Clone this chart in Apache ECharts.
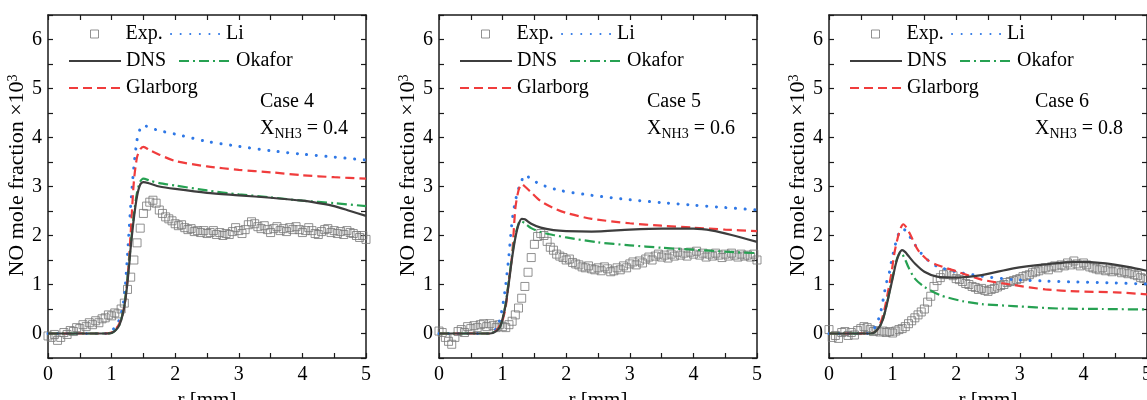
<!DOCTYPE html>
<html>
<head>
<meta charset="utf-8">
<script src="https://cdn.jsdelivr.net/npm/echarts@6/dist/echarts.min.js"></script>
<style>
  html, body { margin: 0; padding: 0; background: #fff; }
  #main { width: 1147px; height: 400px; }
</style>
</head>
<body>
<div id="main"></div>
<script>
// ---- data (r in mm, NO mole fraction x 10^3) ----
const caseNames = ['Case 4', 'Case 5', 'Case 6']
const xNH3 = ['0.4', '0.6', '0.8']

const expR = [0, 0.05, 0.1, 0.15, 0.2, 0.25, 0.3, 0.35, 0.4, 0.45, 0.5, 0.55, 0.6, 0.65, 0.7, 0.75, 0.8, 0.85, 0.9, 0.95,
  1.0, 1.05, 1.1, 1.15, 1.2, 1.25, 1.3, 1.35, 1.4, 1.45, 1.5, 1.55, 1.6, 1.65, 1.7, 1.75, 1.8, 1.85, 1.9, 1.95,
  2.0, 2.05, 2.1, 2.15, 2.2, 2.25, 2.3, 2.35, 2.4, 2.45, 2.5, 2.55, 2.6, 2.65, 2.7, 2.75, 2.8, 2.85, 2.9, 2.95,
  3.0, 3.05, 3.1, 3.15, 3.2, 3.25, 3.3, 3.35, 3.4, 3.45, 3.5, 3.55, 3.6, 3.65, 3.7, 3.75, 3.8, 3.85, 3.9, 3.95,
  4.0, 4.05, 4.1, 4.15, 4.2, 4.25, 4.3, 4.35, 4.4, 4.45, 4.5, 4.55, 4.6, 4.65, 4.7, 4.75, 4.8, 4.85, 4.9, 4.95, 5.0]

const exp4 = [-0.05, -0.08, -0.02, -0.14, -0.08, 0.02, -0.02, 0.06, 0.04, 0.12, 0.10, 0.18, 0.14, 0.22, 0.18, 0.26, 0.22, 0.30, 0.32, 0.38,
  0.36, 0.42, 0.40, 0.50, 0.62, 0.90, 1.15, 1.50, 1.85, 2.15, 2.45, 2.60, 2.68, 2.72, 2.66, 2.52, 2.45, 2.38, 2.34, 2.30,
  2.24, 2.20, 2.22, 2.16, 2.12, 2.14, 2.08, 2.10, 2.06, 2.10, 2.04, 2.06, 2.10, 2.02, 2.06, 2.00, 2.04, 2.02, 2.08, 2.16,
  2.10, 2.04, 2.12, 2.22, 2.28, 2.24, 2.18, 2.14, 2.20, 2.12, 2.06, 2.14, 2.18, 2.10, 2.14, 2.08, 2.16, 2.12, 2.18, 2.12,
  2.06, 2.10, 2.16, 2.10, 2.04, 2.02, 2.08, 2.12, 2.14, 2.06, 2.10, 2.04, 2.08, 2.02, 2.10, 2.06, 2.04, 2.00, 1.96, 2.00, 1.92]

const exp5 = [0.05, 0.02, -0.08, -0.16, -0.22, -0.08, 0.04, 0.08, 0.02, 0.14, 0.10, 0.16, 0.12, 0.18, 0.20, 0.14, 0.20, 0.16, 0.12, 0.18,
  0.14, 0.12, 0.18, 0.25, 0.38, 0.52, 0.72, 0.96, 1.25, 1.55, 1.82, 1.98, 2.04, 2.00, 1.88, 1.76, 1.70, 1.62, 1.58, 1.55,
  1.50, 1.52, 1.45, 1.42, 1.40, 1.36, 1.34, 1.38, 1.32, 1.30, 1.34, 1.28, 1.36, 1.32, 1.26, 1.28, 1.34, 1.30, 1.38, 1.34,
  1.42, 1.46, 1.40, 1.48, 1.44, 1.52, 1.56, 1.50, 1.58, 1.62, 1.56, 1.60, 1.54, 1.62, 1.58, 1.66, 1.60, 1.64, 1.58, 1.66,
  1.62, 1.68, 1.60, 1.64, 1.56, 1.62, 1.58, 1.64, 1.60, 1.55, 1.62, 1.58, 1.64, 1.60, 1.56, 1.62, 1.58, 1.60, 1.56, 1.62, 1.50]

const exp6 = [0.08, -0.08, -0.04, -0.10, 0.02, 0.04, -0.04, 0.02, -0.03, 0.06, 0.10, 0.14, 0.12, 0.08, 0.04, 0.06, 0.03, 0.05, 0.02, 0.04,
  0.01, 0.05, 0.08, 0.10, 0.14, 0.20, 0.26, 0.32, 0.38, 0.44, 0.50, 0.64, 0.76, 0.96, 1.08, 1.14, 1.20, 1.24, 1.22, 1.18,
  1.12, 1.10, 1.06, 1.02, 1.00, 0.96, 0.94, 0.90, 0.92, 0.88, 0.86, 0.90, 0.92, 0.95, 0.98, 1.00, 1.04, 1.06, 1.08, 1.10,
  1.12, 1.16, 1.18, 1.20, 1.24, 1.26, 1.28, 1.32, 1.34, 1.30, 1.36, 1.38, 1.34, 1.40, 1.38, 1.44, 1.40, 1.48, 1.42, 1.38,
  1.44, 1.40, 1.36, 1.34, 1.32, 1.30, 1.34, 1.28, 1.30, 1.26, 1.30, 1.28, 1.24, 1.26, 1.22, 1.24, 1.20, 1.18, 1.14, 1.12, 1.10]

const dns4 = [[0, 0], [0.9, 0], [1.0, 0.01], [1.1, 0.12], [1.15, 0.27], [1.2, 0.55], [1.25, 1.05], [1.3, 1.75], [1.35, 2.35], [1.4, 2.8],
  [1.45, 3.04], [1.5, 3.09], [1.6, 3.06], [1.75, 3.0], [2.0, 2.95], [2.5, 2.87], [3.0, 2.82], [3.5, 2.77], [4.0, 2.71], [4.25, 2.66],
  [4.5, 2.6], [4.75, 2.5], [5.0, 2.4]]
const oka4 = [[0, 0], [0.9, 0], [1.0, 0.01], [1.1, 0.12], [1.15, 0.28], [1.2, 0.58], [1.25, 1.1], [1.3, 1.8], [1.35, 2.42], [1.4, 2.88],
  [1.45, 3.1], [1.5, 3.16], [1.6, 3.12], [1.75, 3.07], [2.0, 3.02], [2.5, 2.92], [3.0, 2.84], [3.5, 2.78], [4.0, 2.71], [4.5, 2.66], [5.0, 2.6]]
const gla4 = [[0, 0], [0.9, 0], [1.0, 0.02], [1.1, 0.15], [1.15, 0.3], [1.2, 0.55], [1.25, 1.1], [1.3, 2.05], [1.35, 3.1], [1.4, 3.6],
  [1.45, 3.76], [1.5, 3.81], [1.6, 3.74], [1.75, 3.65], [2.0, 3.52], [2.5, 3.41], [3.0, 3.34], [3.5, 3.29], [4.0, 3.23], [4.5, 3.19], [5.0, 3.16]]
const li4 = [[0, 0], [0.9, 0], [1.0, 0.05], [1.1, 0.22], [1.15, 0.4], [1.2, 0.75], [1.25, 1.6], [1.3, 2.6], [1.35, 3.4], [1.4, 3.95],
  [1.45, 4.18], [1.5, 4.25], [1.6, 4.2], [1.75, 4.14], [2.0, 4.07], [2.5, 3.92], [3.0, 3.82], [3.5, 3.73], [4.0, 3.66], [4.5, 3.6], [5.0, 3.54]]

const dns5 = [[0, 0], [0.8, 0], [0.9, 0.05], [0.96, 0.14], [1.0, 0.3], [1.05, 0.6], [1.1, 1.05], [1.15, 1.55], [1.2, 1.95], [1.25, 2.22],
  [1.3, 2.34], [1.35, 2.33], [1.45, 2.24], [1.6, 2.16], [1.8, 2.11], [2.0, 2.09], [2.4, 2.08], [3.0, 2.12], [3.5, 2.14], [4.0, 2.14],
  [4.3, 2.1], [4.6, 2.01], [5.0, 1.87]]
const oka5 = [[0, 0], [0.8, 0], [0.9, 0.05], [0.96, 0.14], [1.0, 0.3], [1.05, 0.62], [1.1, 1.1], [1.15, 1.6], [1.2, 2.0], [1.25, 2.24],
  [1.28, 2.3], [1.35, 2.25], [1.45, 2.15], [1.6, 2.07], [1.8, 2.01], [2.0, 1.96], [2.5, 1.86], [3.0, 1.8], [3.5, 1.75], [4.0, 1.71],
  [4.5, 1.67], [5.0, 1.64]]
const gla5 = [[0, 0], [0.8, 0], [0.9, 0.06], [0.95, 0.15], [1.0, 0.27], [1.05, 0.55], [1.1, 1.1], [1.15, 1.6], [1.2, 2.55], [1.25, 2.92],
  [1.3, 3.05], [1.35, 3.0], [1.45, 2.88], [1.6, 2.7], [1.8, 2.56], [2.0, 2.46], [2.4, 2.34], [3.0, 2.25], [3.5, 2.2], [4.0, 2.16],
  [4.5, 2.12], [5.0, 2.09]]
const li5 = [[0, 0], [0.8, 0], [0.9, 0.1], [0.95, 0.25], [1.0, 0.55], [1.05, 1.0], [1.1, 1.6], [1.15, 2.3], [1.2, 2.7], [1.25, 2.95],
  [1.3, 3.12], [1.35, 3.24], [1.45, 3.15], [1.6, 3.04], [1.9, 2.92], [2.4, 2.82], [3.0, 2.73], [3.5, 2.67], [4.0, 2.62], [4.5, 2.57], [5.0, 2.52]]

const dns6 = [[0, 0], [0.65, 0], [0.72, 0.03], [0.8, 0.15], [0.85, 0.3], [0.9, 0.54], [0.95, 0.83], [1.0, 1.12], [1.05, 1.42], [1.1, 1.62],
  [1.15, 1.7], [1.2, 1.66], [1.25, 1.58], [1.35, 1.43], [1.5, 1.26], [1.7, 1.16], [2.0, 1.14], [2.4, 1.19], [2.9, 1.33], [3.4, 1.41],
  [3.9, 1.46], [4.35, 1.43], [4.7, 1.36], [5.0, 1.28]]
const oka6 = [[0, 0], [0.65, 0], [0.72, 0.03], [0.8, 0.15], [0.85, 0.3], [0.9, 0.55], [0.95, 0.85], [1.0, 1.15], [1.05, 1.45], [1.1, 1.62],
  [1.13, 1.65], [1.2, 1.5], [1.25, 1.35], [1.35, 1.12], [1.5, 0.95], [1.75, 0.78], [2.1, 0.66], [2.4, 0.6], [2.9, 0.56], [3.6, 0.51],
  [4.3, 0.5], [5.0, 0.49]]
const gla6 = [[0, 0], [0.65, 0], [0.75, 0.06], [0.82, 0.25], [0.87, 0.48], [0.92, 0.8], [0.98, 1.22], [1.03, 1.65], [1.08, 1.95], [1.13, 2.16],
  [1.17, 2.23], [1.22, 2.16], [1.27, 2.04], [1.4, 1.7], [1.55, 1.5], [1.7, 1.4], [2.0, 1.27], [2.4, 1.1], [2.9, 0.99], [3.4, 0.9],
  [3.9, 0.86], [4.5, 0.84], [5.0, 0.8]]
const li6 = [[0, 0], [0.6, 0], [0.7, 0.08], [0.78, 0.3], [0.82, 0.48], [0.86, 0.75], [0.9, 1.02], [0.95, 1.25], [0.98, 1.46], [1.04, 1.8],
  [1.1, 2.05], [1.15, 2.13], [1.21, 2.1], [1.32, 1.87], [1.5, 1.56], [1.7, 1.37], [2.0, 1.26], [2.4, 1.17], [2.9, 1.1], [3.4, 1.07],
  [3.9, 1.05], [4.5, 1.03], [5.0, 1.01]]

const expList = [exp4, exp5, exp6]
const dnsList = [dns4, dns5, dns6]
const okaList = [oka4, oka5, oka6]
const glaList = [gla4, gla5, gla6]
const liList = [li4, li5, li6]

// ---- layout ----
const FONT = 'Liberation Serif'
const plotLeft = [48, 439, 829]
const plotW = 318
const plotTop = 15
const plotH = 343
const caseLeft = [260, 647, 1035]

const INK = '#1a1a1a'
const C_EXP = '#777777'
const C_DNS = '#3d3d3d'
const C_LI = '#2f78e6'
const C_GLA = '#f03c3c'
const C_OKA = '#26a152'

const intLabel = v => (Math.abs(v % 1) < 1e-9 ? String(Math.round(v)) : '')

function frameAxis(gi, pos, isX, withLabel) {
  const ax = {
    type: 'value',
    gridIndex: gi,
    position: pos,
    min: isX ? 0 : -0.5,
    max: isX ? 5 : 6.5,
    interval: 0.5,
    axisLine: { show: true, onZero: false, lineStyle: { color: INK, width: 1.5 } },
    axisTick: { show: true, inside: true, length: 5, lineStyle: { color: INK, width: 1.2 } },
    axisLabel: {
      show: withLabel,
      formatter: intLabel,
      fontFamily: FONT,
      fontSize: 20,
      color: '#000',
      margin: isX ? 7 : 6
    },
    splitLine: { show: false }
  }
  if (withLabel) {
    if (isX) {
      ax.name = 'r [mm]'
      ax.nameLocation = 'middle'
      ax.nameGap = 30
      ax.nameTextStyle = { fontFamily: FONT, fontSize: 21, color: '#000' }
    } else {
      ax.name = 'NO mole fraction ×10{s|3}'
      ax.nameLocation = 'middle'
      ax.nameGap = 18
      ax.nameTextStyle = {
        fontFamily: FONT,
        fontSize: 22,
        color: '#000',
        padding: [0, 0, 0, 22],
        rich: { s: { fontFamily: FONT, fontSize: 14, lineHeight: 14, verticalAlign: 'top', color: '#000' } }
      }
    }
  }
  return ax
}

const grids = []
const xAxes = []
const yAxes = []
const series = []
const legends = []
const graphics = []

for (let i = 0; i < 3; i++) {
  grids.push({ left: plotLeft[i], top: plotTop, width: plotW, height: plotH, outerBoundsMode: 'none', containLabel: false })
  xAxes.push(frameAxis(i, 'bottom', true, true))
  xAxes.push(frameAxis(i, 'top', true, false))
  yAxes.push(frameAxis(i, 'left', false, true))
  yAxes.push(frameAxis(i, 'right', false, false))

  const xi = 2 * i
  const yi = 2 * i
  series.push({
    name: 'Exp.',
    type: 'scatter',
    xAxisIndex: xi,
    yAxisIndex: yi,
    symbol: 'rect',
    symbolSize: 8,
    itemStyle: { color: 'rgba(255,255,255,0)', borderColor: C_EXP, borderWidth: 1 },
    data: expR.map((r, k) => [r, expList[i][k]]),
    z: 1
  })
  const lineDefs = [
    ['Li', liList[i], C_LI, { width: 3, type: [0.1, 9.5], cap: 'round' }],
    ['Glarborg', glaList[i], C_GLA, { width: 2.2, type: [9, 5] }],
    ['Okafor', okaList[i], C_OKA, { width: 2.2, type: [10, 4, 2, 4] }],
    ['DNS', dnsList[i], C_DNS, { width: 2.2, type: 'solid' }]
  ]
  lineDefs.forEach(([name, data, color, ls]) => {
    series.push({
      name,
      type: 'line',
      xAxisIndex: xi,
      yAxisIndex: yi,
      data,
      smooth: 0.25,
      symbol: 'none',
      color,
      lineStyle: Object.assign({ color }, ls),
      z: 3
    })
  })

  const dx = plotLeft[i] - 48
  const legendBase = {
    orient: 'horizontal',
    padding: 0,
    itemWidth: 52,
    itemHeight: 8,
    selectedMode: false,
    itemStyle: { opacity: 0 },
    textStyle: { fontFamily: FONT, fontSize: 20, color: '#000' }
  }
  legends.push(Object.assign({}, legendBase, {
    left: 90 + dx, top: 24,
    itemWidth: 8,
    itemHeight: 8,
    icon: 'rect',
    itemStyle: { color: 'rgba(255,255,255,0)', borderColor: C_EXP, borderWidth: 1 },
    textStyle: { fontFamily: FONT, fontSize: 20, color: '#000', padding: [0, 0, 0, 22] },
    data: ['Exp.']
  }))
  legends.push(Object.assign({}, legendBase, { left: 170 + dx, top: 24, itemWidth: 50, data: ['Li'] }))
  legends.push(Object.assign({}, legendBase, { left: 68 + dx, top: 51, data: ['DNS'] }))
  legends.push(Object.assign({}, legendBase, { left: 178 + dx, top: 51, itemWidth: 52, data: ['Okafor'] }))
  legends.push(Object.assign({}, legendBase, { left: 68 + dx, top: 78, data: ['Glarborg'] }))

  graphics.push({
    type: 'text',
    left: caseLeft[i],
    top: 92,
    style: { text: caseNames[i], fontFamily: FONT, fontSize: 20, fill: '#000' }
  })
  graphics.push({
    type: 'text',
    left: caseLeft[i],
    top: 119,
    style: {
      text: '{m|X}{s|NH3}{m| = ' + xNH3[i] + '}',
      rich: {
        m: { fontFamily: FONT, fontSize: 20, lineHeight: 22, verticalAlign: 'top', fill: '#000' },
        s: { fontFamily: FONT, fontSize: 14, lineHeight: 16, verticalAlign: 'bottom', fill: '#000' }
      }
    }
  })
}

const chart = echarts.init(document.getElementById('main'), null, { renderer: 'canvas' })
chart.setOption({
  animation: false,
  backgroundColor: '#fff',
  grid: grids,
  xAxis: xAxes,
  yAxis: yAxes,
  legend: legends,
  graphic: graphics,
  series
})
</script>
</body>
</html>
